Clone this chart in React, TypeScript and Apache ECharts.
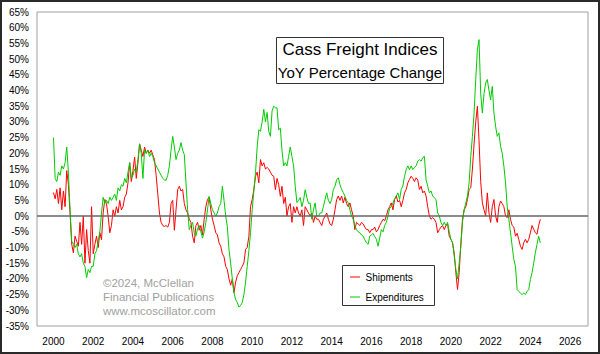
import React, { useEffect, useRef } from "react";
import * as echarts from "echarts";

// Monthly data, starting January 2000
const startYear = 2000;

const shipments: number[] = [
  // 2000
  7.5, 5.5, 8.5, 4, 9, 2, 8, 3, 14.5, 10, 1, -9,
  // 2001
  -11.7, -6.4, -8, -9.6, -2, -9, 0, -15, -4.3, -11, -15, 3,
  // 2002
  -12, -9, -6.4, -10, -5.3, -7.5, 1, 5.3, 4, 0, -5.3, -3,
  // 2003
  2, 0, 3, 1, 5, 2, 3, 6, 7, 10.6, 17, 11,
  // 2004
  14.5, 18.8, 12, 17, 23, 21, 19, 22, 20, 21, 20, 21,
  // 2005
  19.5, 18, 13, 7, 1, -2, -3, -3.3, -3, -3.5, -2, 4,
  // 2006
  5, -4.5, 2, 8.4, 9.5, 8, 8.5, 4, 2, 1, -1, -2,
  // 2007
  -6.4, -8.5, -3, -2, -4.5, -3, -6, -1, 3, 5.3, 6, 2,
  // 2008
  -1, -3, -5.3, -6, -8.5, -9.6, -12, -13, -16, -17, -20, -22,
  // 2009
  -20, -24.4, -21, -19, -18, -17, -16, -14.9, -10.6, -10, -6.4, 3,
  // 2010
  5.3, 8.4, 12.7, 14, 10.6, 18, 16, 17, 15, 15.5, 15, 14,
  // 2011
  13, 12.7, 8.4, 12, 10, 6.3, 9.5, 4, 6, 0, 3, 4,
  // 2012
  -2, 3, 1, 3, 1, 0, 2, -3, 3, 2, 1, 0,
  // 2013
  1, -2, 0, -1, -1, -2, -3, -1, 0, 1, -1, -2.5,
  // 2014
  -3, -1, 2, 5.3, 6.4, 5, 6.4, 4.2, 6, 4, 3, 4.2,
  // 2015
  2, 0, -4.3, -2, -2.5, -3, -2, -2.5, -3.5, -4.3, -4.3, -5.3,
  // 2016
  -4.3, -4.3, -3.5, -5, -4.3, -3, -2, -1, -1.5, 0, 2, 3,
  // 2017
  4.2, 2, 5.3, 6.4, 4.5, 5, 3, 5, 7.4, 8.5, 10.6, 11.7,
  // 2018
  12.7, 12, 11, 12.2, 11.5, 8.5, 9.5, 7.4, 8, 6.4, 3, 0,
  // 2019
  -1, -0.5, -1, -2, -5.3, -4.3, -3.5, -3, -4.3, -3, -2.5, -6.4,
  // 2020
  -7.4, -8.5, -11.7, -18, -23.4, -18, -9, -1, 2, 3, 5.3, 8.5,
  // 2021
  9, 15, 23, 30, 35, 24, 11, 4.2, 2, 0, 7.4, 1,
  // 2022
  -2, 3, 5.3, 0, -2, 3, 4.8, 4, 3, 0, -0.5, 2,
  // 2023
  -1, -3, -3.5, -6.4, -5.5, -7.4, -9.6, -10.6, -8.5, -7.4, -8.5, -7.4,
  // 2024
  -5.3, -3, -4.2, -5.3, -5.8, -3, -1,
];

const expenditures: number[] = [
  // 2000
  25, 12, 11, 14, 13, 16, 15, 17, 22, 14, 2, -8,
  // 2001
  -9, -10, -9, -12, -13, -12, -15, -16, -19.6, -17, -18, -16,
  // 2002
  -16, -12, -11, -8, -5, 1, 6, 4, 5, 4, 6, 5,
  // 2003
  6, 7, 5, 9, 8, 10, 9.5, 12, 10.6, 14, 17, 12,
  // 2004
  13, 15, 14, 18, 23, 20, 12, 21, 20, 21, 19, 20,
  // 2005
  19, 17, 16, 15, 14, 13, 12, 11.5, 11.4, 13, 16, 21,
  // 2006
  25.4, 22, 18, 20, 21, 23.4, 21, 19.6, 10.6, 2, -4.3, -3,
  // 2007
  -2, -5.3, -6.4, -4, -3, -5, -7, -5, -2, 2, 6.3, 4,
  // 2008
  2, 1, 0, 1, 3, 4, 9.5, 5, 0, -3.4, -10.7, -15,
  // 2009
  -20, -24.4, -26.6, -27.5, -29, -28.5, -27.5, -25, -21, -16, -11, -5.3,
  // 2010
  2, 8, 13.8, 22, 27.5, 27, 30, 34, 30, 33, 27, 25.4,
  // 2011
  33.5, 35, 34.5, 34.5, 27.5, 28, 21, 16, 17, 16, 19, 22,
  // 2012
  19, 16, 9.5, 4.3, 5, 5.9, 3, 5, 8.4, 6, 4, 4.2,
  // 2013
  -1, 2, 4.2, 0, 0, 1, 1, 3, 5.3, 7.4, 5, 4,
  // 2014
  5.3, 8.5, 9.5, 11.6, 12.2, 10, 8.5, 7.5, 6.4, 5, 4.2, 2,
  // 2015
  0, -1, -3, -4.3, -5, -5.3, -6, -6.4, -7.5, -8.5, -9, -6.4,
  // 2016
  -6, -5.5, -6.5, -7.4, -9.6, -7, -4.3, -5, -3, -2, 0, 2.5,
  // 2017
  3, 4.2, 5.5, 6.4, 7.4, 5.3, 8.5, 9.6, 12.7, 14.8, 16, 14.8,
  // 2018
  16, 14.8, 15.5, 16, 17.5, 18, 17.5, 18.6, 19, 11.6, 9.5, 7.4,
  // 2019
  8, 6.4, 5.8, 5.3, 1, 0, -2, -3, -2, -3, -2, -5,
  // 2020
  -7.4, -8.5, -12.7, -17, -20, -15, -9.6, -2, 2, 4.2, 6.4, 10.6,
  // 2021
  19, 25.4, 32.8, 43.5, 53, 56.2, 39, 32.8, 39, 42.4, 43.5, 40,
  // 2022
  37, 41.3, 32.8, 28.6, 25.4, 26.5, 22.2, 20, 15.9, 10.6, 3.1, -1,
  // 2023
  -5.3, -9.6, -13.8, -16, -23.4, -24, -24.5, -25, -24.5, -25, -24, -23.4,
  // 2024
  -20.2, -18, -15, -11.7, -9, -6.4, -8.5,
];

const xTickYears: number[] = [2000, 2002, 2004, 2006, 2008, 2010, 2012, 2014, 2016, 2018, 2020, 2022, 2024, 2026];
const seriesNames: string[] = ["Shipments", "Expenditures"];
const titleLines: string[] = ["Cass Freight Indices", "YoY Percentage Change"];
const creditLines: string[] = ["\u00a92024, McClellan", "Financial Publications", "www.mcoscillator.com"];

const FONT = "'Liberation Sans', Arial, sans-serif";
const RED = "#ff0000";
const GREEN = "#00cc00";

const toPairs = (vals: number[]) => vals.map((v, i) => [startYear + i / 12, v]);

export default function App() {
  const ref = useRef<HTMLDivElement>(null);

  useEffect(() => {
    if (!ref.current) return;
    const chart = echarts.init(ref.current, undefined, { renderer: "svg" });
    const option: any = {
      animation: false,
      backgroundColor: "#ffffff",
      grid: {
        left: 37,
        top: 12,
        right: 12,
        bottom: 28,
        show: true,
        borderColor: "#a0a0a0",
        borderWidth: 1,
        backgroundColor: "#ffffff",
      },
      xAxis: {
        type: "value",
        min: 1999.17,
        max: 2026.9,
        axisLine: { show: false },
        axisTick: { show: false },
        splitLine: { show: false },
        axisLabel: {
          customValues: xTickYears,
          formatter: (v: number) => String(Math.round(v)),
          color: "#000",
          fontSize: 10,
          fontFamily: FONT,
          margin: 10,
        },
      },
      yAxis: {
        type: "value",
        min: -35,
        max: 65,
        interval: 5,
        axisLine: { show: false },
        axisTick: { show: false },
        splitLine: { show: false },
        axisLabel: {
          formatter: "{value}%",
          color: "#000",
          fontSize: 10,
          fontFamily: FONT,
          margin: 8,
        },
      },
      series: [
        {
          name: seriesNames[0],
          type: "line",
          data: toPairs(shipments),
          showSymbol: false,
          symbol: "none",
          lineStyle: { color: RED, width: 1 },
          z: 3,
          markLine: {
            silent: true,
            symbol: "none",
            label: { show: false },
            lineStyle: { color: "#666666", width: 1.5, type: "solid" },
            data: [{ yAxis: 0 }],
          },
        },
        {
          name: seriesNames[1],
          type: "line",
          data: toPairs(expenditures),
          showSymbol: false,
          symbol: "none",
          lineStyle: { color: GREEN, width: 1 },
          z: 4,
        },
      ],
      graphic: [
        {
          type: "rect",
          shape: { x: 1, y: 1, width: 598, height: 352 },
          style: { fill: "none", stroke: "#2a2a2a", lineWidth: 2 },
          z: 100,
        },
        {
          type: "rect",
          shape: { x: 276.5, y: 37.5, width: 167, height: 46 },
          style: { fill: "#ffffff", stroke: "#333333", lineWidth: 1 },
          z: 50,
        },
        {
          type: "text",
          x: 360,
          y: 49.5,
          style: { text: titleLines[0], fill: "#000", font: `17px ${FONT}`, align: "center", verticalAlign: "middle" },
          z: 51,
        },
        {
          type: "text",
          x: 360,
          y: 72,
          style: { text: titleLines[1], fill: "#000", font: `15px ${FONT}`, align: "center", verticalAlign: "middle" },
          z: 51,
        },
        {
          type: "rect",
          shape: { x: 342.5, y: 265.5, width: 92, height: 40 },
          style: { fill: "#ffffff", stroke: "#333333", lineWidth: 1 },
          z: 50,
        },
        {
          type: "line",
          shape: { x1: 350, y1: 277, x2: 360, y2: 277 },
          style: { stroke: RED, lineWidth: 1 },
          z: 51,
        },
        {
          type: "line",
          shape: { x1: 350, y1: 297, x2: 360, y2: 297 },
          style: { stroke: GREEN, lineWidth: 1 },
          z: 51,
        },
        {
          type: "text",
          x: 365.5,
          y: 277,
          style: { text: seriesNames[0], fill: "#000", font: `10px ${FONT}`, verticalAlign: "middle" },
          z: 51,
        },
        {
          type: "text",
          x: 365.5,
          y: 297,
          style: { text: seriesNames[1], fill: "#000", font: `10px ${FONT}`, verticalAlign: "middle" },
          z: 51,
        },
        ...creditLines.map((t, i) => ({
          type: "text",
          x: 103,
          y: 283 + i * 14,
          style: { text: t, fill: "#a0a0a0", font: `11.5px ${FONT}`, verticalAlign: "middle" },
          z: 1,
        })),
      ],
    };
    chart.setOption(option);
    return () => chart.dispose();
  }, []);

  return (
    <div
      ref={ref}
      style={{ position: "absolute", left: 0, top: 0, width: 600, height: 354, background: "#fff" }}
    />
  );
}
